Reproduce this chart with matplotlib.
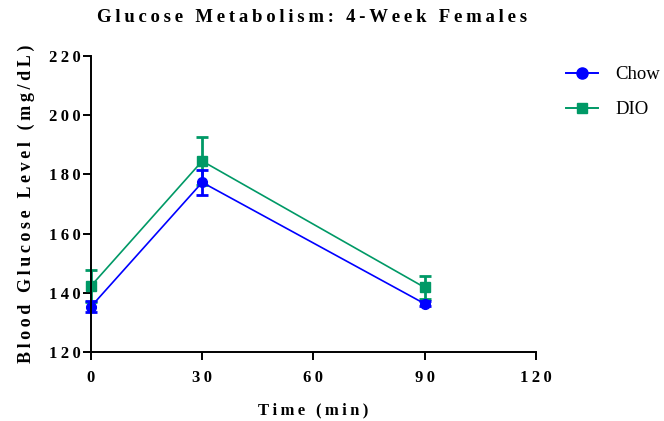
import matplotlib
matplotlib.use('Agg')
import matplotlib.pyplot as plt
from matplotlib.lines import Line2D

# glucose tolerance readings, mean and SEM per time point
time_min = [0, 30, 90]
chow_mean = [135.3, 177.3, 136.3]
chow_sem = [1.8, 4.3, 0.8]
dio_mean = [142.3, 184.5, 141.8]
dio_sem = [5.3, 8.0, 3.8]

x_ticks = [0, 30, 60, 90, 120]
y_ticks = [120, 140, 160, 180, 200, 220]

blue = '#0000ff'
green = '#009966'

plt.rcParams['font.family'] = ['Liberation Serif', 'DejaVu Serif']


def spaced(s):
    # wide letter spacing, prism style
    return '\u2009'.join(s)


fig = plt.figure(figsize=(6.64, 4.21), dpi=100, facecolor='white')
ax = fig.add_axes([0.137, 0.164, 0.670, 0.703])

ax.errorbar(time_min, chow_mean, yerr=chow_sem, color=blue, marker='o', markersize=7,
            linewidth=1.2, elinewidth=2, capsize=4, capthick=2, clip_on=False, zorder=3)
ax.errorbar(time_min, dio_mean, yerr=dio_sem, color=green, marker='s', markersize=7,
            linewidth=1.2, elinewidth=2, capsize=4, capthick=2, clip_on=False, zorder=2)

ax.set_xlim(0, 120)
ax.set_ylim(120, 220)
ax.set_xticks(x_ticks, labels=[spaced(str(v)) for v in x_ticks])
ax.set_yticks(y_ticks, labels=[spaced(str(v)) for v in y_ticks])
for side in ['top', 'right']:
    ax.spines[side].set_visible(False)
for side in ['left', 'bottom']:
    ax.spines[side].set_linewidth(1.4)
    ax.spines[side].set_zorder(5)
ax.tick_params(direction='out', length=6, width=1.4, labelsize=12)
ax.tick_params(axis='x', pad=7)
ax.tick_params(axis='y', pad=1.5)
for lab in ax.get_xticklabels() + ax.get_yticklabels():
    lab.set_fontweight('bold')

ax.set_xlabel(spaced('Time (min)'), fontsize=12, fontweight='bold', labelpad=12)
ax.set_ylabel(spaced('Blood Glucose Level (mg/dL)'), fontsize=13, fontweight='bold', labelpad=10)
fig.suptitle(spaced('Glucose Metabolism: 4-Week Females'), x=0.47, y=0.978,
             fontsize=13.5, fontweight='bold')

handles = [Line2D([], [], color=blue, marker='o', markersize=8, linewidth=1.4),
           Line2D([], [], color=green, marker='s', markersize=7, linewidth=1.4)]
ax.legend(handles, ['Chow', 'DIO'], loc='upper left',
          bbox_to_anchor=(1.067, 0.966), borderaxespad=0, borderpad=0, frameon=False,
          fontsize=13.5, handlelength=1.7, labelspacing=0.95, handletextpad=0.95)

plt.savefig('out.png', facecolor=fig.get_facecolor())
